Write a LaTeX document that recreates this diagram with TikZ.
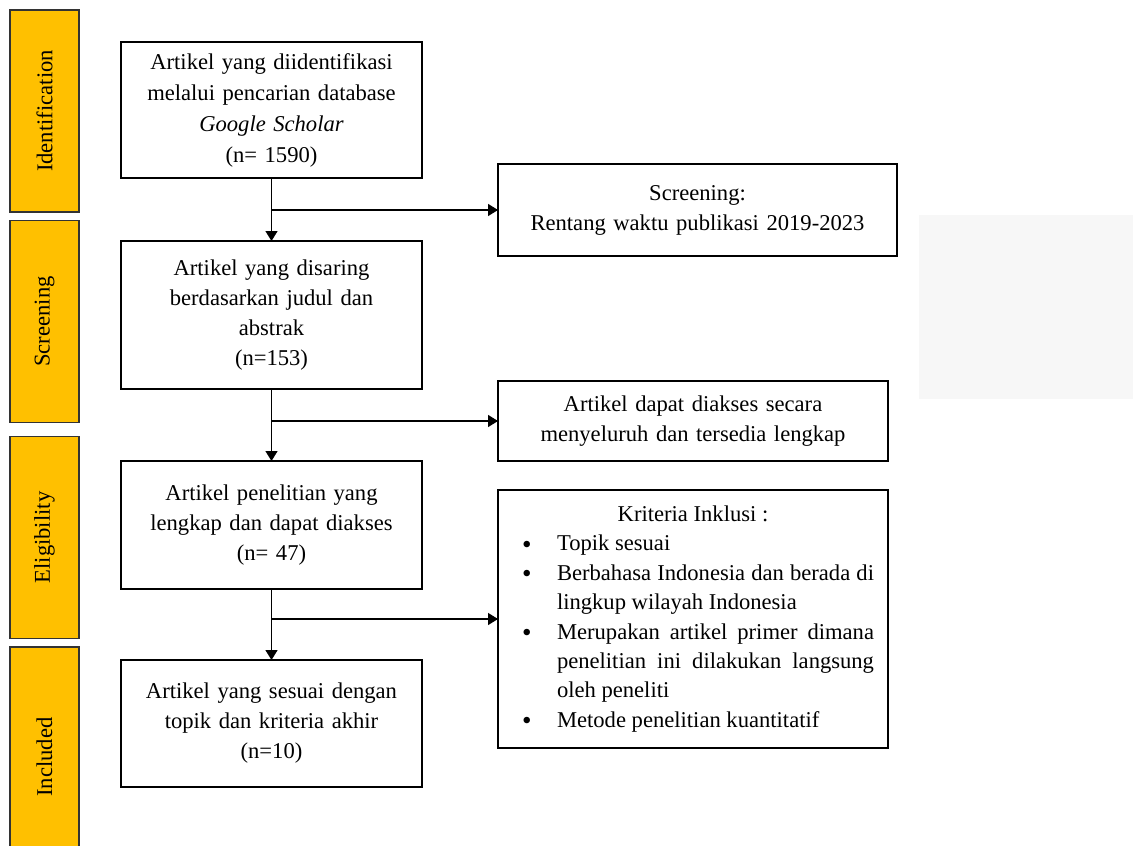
\documentclass[tikz,border=0pt]{standalone}
\usepackage{fontspec}
\setmainfont{Liberation Serif}
\usetikzlibrary{arrows.meta}
\definecolor{PhaseGold}{HTML}{FFC000}
\definecolor{EdgeGray}{HTML}{333333}
\definecolor{GhostGray}{HTML}{F7F7F7}
\newcommand{\butir}[1]{\par\hangindent=22.5pt\hangafter=1\noindent
  \hbox to 22.5pt{\hspace{5pt}\raisebox{-0.2ex}{\scalebox{1.2}{\textbullet}}\hfil}#1}

\begin{document}
\begin{tikzpicture}[
         x = 0.5pt, y = -0.5pt,
      font = \fontsize{11.3}{15}\selectfont,
PhaseBar/.style={draw=EdgeGray, fill=PhaseGold, line width=0.9pt,
                minimum width=101pt, minimum height=34.5pt,
                rotate=90, inner sep=0pt, outer sep=0pt},
MainBox/.style={draw, line width=0.75pt, minimum width=150.5pt,
                text width=140pt, align=center, inner sep=0pt, outer sep=0pt},
SideBox/.style={draw, line width=0.75pt, minimum width=195pt,
                text width=185pt, align=center, inner sep=0pt, outer sep=0pt},
  ]
\clip (0,0) rectangle (1133,845);
\fill[GhostGray] (919,215) rectangle (1133,399);

\node [PhaseBar] (I) at (44.5,111)   {Identification};
\node [PhaseBar] (S) at (44.5,321.5) {Screening};
\node [PhaseBar] (E) at (44.5,537.5) {Eligibility};
\node [PhaseBar, minimum width=110pt] (N) at (44.5,757) {Included};

\node [MainBox, minimum height=68pt, font=\fontsize{11.3}{15.5}\selectfont] (1) at (271.5,110)
  {Artikel yang diidentifikasi\\ melalui pencarian database\\ \textit{Google Scholar}\\ (n= 1590)};
\node [MainBox, minimum height=74pt] (2) at (271.5,315)
  {Artikel yang disaring\\ berdasarkan judul dan\\ abstrak\\ (n=153)};
\node [MainBox, minimum height=64pt] (3) at (271.5,525)
  {Artikel penelitian yang\\ lengkap dan dapat diakses\\ (n= 47)};
\node [MainBox, minimum height=63.5pt] (4) at (271.5,723.5)
  {Artikel yang sesuai dengan\\ topik dan kriteria akhir\\ (n=10)};

\node [SideBox, minimum width=199.5pt, minimum height=46pt] (5) at (697.5,210)
  {Screening:\\ Rentang waktu publikasi 2019-2023};
\node [SideBox, minimum height=40pt] (6) at (693,421)
  {Artikel dapat diakses secara\\ menyeluruh dan tersedia lengkap};
\node [SideBox, minimum height=129pt, text width=181pt, inner xsep=7pt,
       align=justify, font=\fontsize{11.3}{14.7}\selectfont] (7) at (693,619)
  {{\centering Kriteria Inklusi :\par}
   \butir{Topik sesuai}
   \butir{Berbahasa Indonesia dan berada di\linebreak lingkup wilayah Indonesia}
   \butir{Merupakan artikel primer dimana\linebreak penelitian ini dilakukan langsung\linebreak oleh peneliti}
   \butir{Metode penelitian kuantitatif}};

\begin{scope}[line width=0.7pt, -{Triangle[length=5pt, width=6pt]}]
  \draw (1.south) -- (2.north);
  \draw (2.south) -- (3.north);
  \draw (3.south) -- (4.north);
  \draw (1.south |- 5.west) -- (5.west);
  \draw (2.south |- 6.west) -- (6.west);
  \draw (3.south |- 7.west) -- (7.west);
\end{scope}
\end{tikzpicture}
\end{document}
